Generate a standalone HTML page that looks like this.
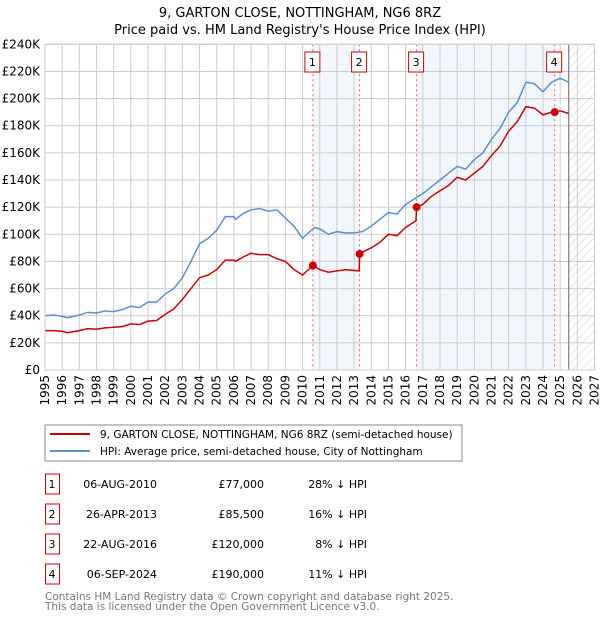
<!DOCTYPE html>
<html><head><meta charset="utf-8"><style>
body{margin:0;background:#fff}
svg text{font-family:"DejaVu Sans","Liberation Sans",sans-serif}
</style></head><body>
<svg id="c" width="600" height="620" xmlns="http://www.w3.org/2000/svg">
<defs><pattern id="hatch" width="6" height="6" patternUnits="userSpaceOnUse" patternTransform="rotate(45)"><line x1="0" y1="0" x2="0" y2="6" stroke="#ccc" stroke-width="1"/></pattern></defs>
<text x="300" y="17" text-anchor="middle" font-size="13">9, GARTON CLOSE, NOTTINGHAM, NG6 8RZ</text>
<text x="300" y="34" text-anchor="middle" font-size="13">Price paid vs. HM Land Registry's House Price Index (HPI)</text>
<g id="plot"></g>
<rect x="45" y="425" width="417" height="36" fill="#fff" stroke="#888"/>
<line x1="50" y1="434" x2="90" y2="434" stroke="#cc0000" stroke-width="2"/>
<text x="100" y="438" font-size="10.5">9, GARTON CLOSE, NOTTINGHAM, NG6 8RZ (semi-detached house)</text>
<line x1="50" y1="451" x2="90" y2="451" stroke="#5b8fd4" stroke-width="2"/>
<text x="100" y="455" font-size="10.5">HPI: Average price, semi-detached house, City of Nottingham</text>
<g id="tbl" font-size="11"></g>
<text x="45" y="600" font-size="10.5" fill="#777">Contains HM Land Registry data © Crown copyright and database right 2025.</text>
<text x="45" y="610" font-size="10.5" fill="#777">This data is licensed under the Open Government Licence v3.0.</text>
</svg>
<script>
const yearTicks=[1995,1996,1997,1998,1999,2000,2001,2002,2003,2004,2005,2006,2007,2008,2009,2010,2011,2012,2013,2014,2015,2016,2017,2018,2019,2020,2021,2022,2023,2024,2025,2026,2027];
const valueTicks=[0,20000,40000,60000,80000,100000,120000,140000,160000,180000,200000,220000,240000];
const valueTickLabels=["£0","£20K","£40K","£60K","£80K","£100K","£120K","£140K","£160K","£180K","£200K","£220K","£240K"];
const hpiDates=[1995,1995.5,1996,1996.3,1997,1997.5,1998,1998.5,1999,1999.5,2000,2000.5,2001,2001.5,2002,2002.5,2003,2003.5,2004,2004.5,2005,2005.5,2006,2006.1,2006.5,2007,2007.5,2008,2008.5,2009,2009.5,2010,2010.5,2010.7,2011,2011.5,2012,2012.5,2013,2013.5,2014,2014.5,2015,2015.5,2016,2016.5,2017,2017.5,2018,2018.5,2019,2019.5,2020,2020.5,2021,2021.5,2022,2022.5,2023,2023.5,2024,2024.5,2025,2025.5];
const hpiValues=[40000,40500,39500,38500,40500,42500,42000,43500,43000,44500,47000,46000,50000,50000,56000,60000,68000,80000,93000,97000,103000,113000,113000,111000,115000,118000,119000,117000,118000,112000,106000,97000,103000,105000,104000,100000,102000,101000,101000,102000,106000,111000,116000,115000,122000,126000,130000,135000,140000,145000,150000,148000,155000,160000,170000,178000,190000,197000,212000,211000,205000,212000,215000,212000];
const priceDates=[1995,1995.5,1996,1996.3,1997,1997.5,1998,1998.5,1999,1999.5,2000,2000.5,2001,2001.5,2002,2002.5,2003,2003.5,2004,2004.5,2005,2005.5,2006,2006.1,2006.5,2007,2007.5,2008,2008.5,2009,2009.5,2010,2010.6,2011,2011.5,2012,2012.5,2013.3,2013.32,2013.5,2014,2014.5,2015,2015.5,2016,2016.6,2016.64,2017,2017.5,2018,2018.5,2019,2019.5,2020,2020.5,2021,2021.5,2022,2022.5,2023,2023.5,2024,2024.5,2024.68,2025,2025.5];
const priceValues=[29000,29000,28500,27500,29000,30500,30000,31000,31500,32000,34000,33500,36000,36500,41000,45000,52000,60000,68000,70000,74000,81000,81000,80000,83000,86000,85000,85000,82000,80000,74000,70000,77000,74000,72000,73000,74000,73000,85500,87000,90000,94000,100000,99000,105000,110000,120000,122000,128000,132000,136000,142000,140000,145000,150000,158000,165000,176000,183000,194000,193000,188000,190000,190000,191000,189000];
const saleLabels=["1","2","3","4"];
const saleDates=[2010.6,2013.32,2016.64,2024.68];
const salePrices=[77000,85500,120000,190000];
const saleDateText=["06-AUG-2010","26-APR-2013","22-AUG-2016","06-SEP-2024"];
const salePriceText=["£77,000","£85,500","£120,000","£190,000"];
const saleHpiText=["28% ↓ HPI","16% ↓ HPI","8% ↓ HPI","11% ↓ HPI"];
const shadeRanges=[[0,1],[2,3]];
const lastDataDate=2025.5;

const X0=45,X1=594.5,Y0=370,Y1=44.3;
const xs=d=>X0+(d-1995)/(2027-1995)*(X1-X0);
const ys=v=>Y0-v/240000*(Y0-Y1);
const NS="http://www.w3.org/2000/svg";
const plot=document.getElementById('plot');
function mk(tag,attrs,parent){const e=document.createElementNS(NS,tag);for(const k in attrs)e.setAttribute(k,attrs[k]);(parent||plot).appendChild(e);return e;}

shadeRanges.forEach(r=>{const e=mk('rect',{x:xs(saleDates[r[0]]),y:Y1,width:xs(saleDates[r[1]])-xs(saleDates[r[0]]),height:Y0-Y1,fill:'#f2f6fd'});

});
const hz=mk('rect',{x:xs(lastDataDate),y:Y1,width:X1-xs(lastDataDate),height:Y0-Y1,fill:'url(#hatch)'});


yearTicks.forEach(t=>{const g=mk('line',{x1:xs(t),x2:xs(t),y1:Y1,y2:Y0,stroke:'#ccc'});


const tx=mk('text',{x:0,y:0,'font-size':12,'text-anchor':'end',transform:`translate(${xs(t)+4},${Y0+5}) rotate(-90)`});tx.textContent=t;

});
valueTicks.forEach((v,i)=>{const g=mk('line',{x1:X0,x2:X1,y1:ys(v),y2:ys(v),stroke:'#ccc'});


const tx=mk('text',{x:40,y:ys(v)+4,'font-size':12,'text-anchor':'end'});tx.textContent=valueTickLabels[i];

});
const bl=mk('line',{x1:xs(lastDataDate),x2:xs(lastDataDate),y1:Y1,y2:Y0,stroke:'#666'});


saleDates.forEach((d,i)=>{const l=mk('line',{x1:xs(d),x2:xs(d),y1:Y1,y2:Y0,stroke:'#f06060','stroke-dasharray':'2,3'});

});
const hp=mk('polyline',{points:hpiDates.map((d,i)=>xs(d)+','+ys(hpiValues[i])).join(' '),fill:'none',stroke:'#5b8fd4','stroke-width':1.5});


const pp=mk('polyline',{points:priceDates.map((d,i)=>xs(d)+','+ys(priceValues[i])).join(' '),fill:'none',stroke:'#cc0000','stroke-width':1.5});


saleDates.forEach((d,i)=>{const c=mk('circle',{cx:xs(d),cy:ys(salePrices[i]),r:4,fill:'#cc0000'});


const b=mk('rect',{x:xs(d)-8,y:52,width:15,height:20,fill:'#fff',stroke:'#cc0000'});


const t=mk('text',{x:xs(d)-0.5,y:66,'font-size':11,'text-anchor':'middle'});t.textContent=saleLabels[i];

});
const bd=mk('rect',{x:X0,y:Y1,width:X1-X0,height:Y0-Y1,fill:'none',stroke:'#ccc'});



const tbl=document.getElementById('tbl');
saleLabels.forEach((s,i)=>{const y=483+i*30;
const b=mk('rect',{x:45.5,y:y-9,width:14,height:20,fill:'#fff',stroke:'#cc0000'},tbl);


const cols=[[52,s,'middle','table-index'],[157,saleDateText[i],'end','table-date'],[264,salePriceText[i],'end','table-price'],[367,saleHpiText[i],'end','table-hpi-diff']];
cols.forEach(c=>{const t=mk('text',{x:c[0],y:y+5,'text-anchor':c[2]},tbl);t.textContent=c[1];

});});
</script>
</body></html>
